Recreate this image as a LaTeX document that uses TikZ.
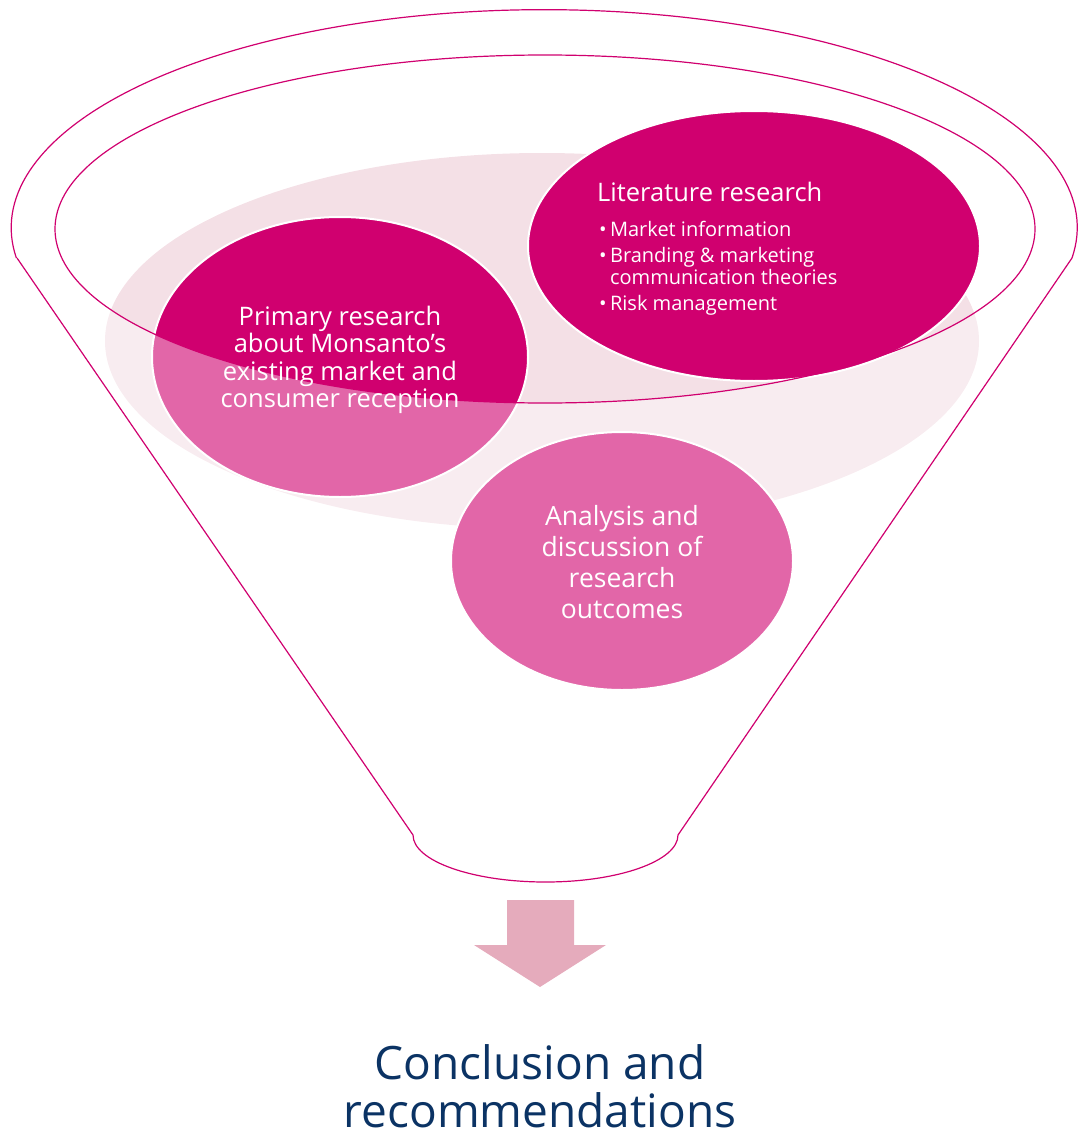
\documentclass[tikz,border=0pt]{standalone}
\usepackage{fontspec}
\setmainfont{Open Sans}
\usetikzlibrary{shapes.geometric}
\definecolor{funnelpink}{HTML}{D0006F}
\definecolor{palepink}{HTML}{F4E0E6}
\definecolor{arrowpink}{HTML}{E5ABBC}
\definecolor{navyblue}{HTML}{0B3364}
\tikzstyle{blob}=[ellipse, fill=funnelpink, draw=white, line width=2pt, inner sep=0pt]
\tikzstyle{blobtext}=[text=white, align=center, inner sep=0pt]
\tikzstyle{rim}=[draw=funnelpink, line width=1.2pt]
\tikzstyle{result}=[text=navyblue, anchor=base, inner sep=0pt, text depth=0pt, font=\fontsize{46}{50}\selectfont]

\begin{document}
\begin{tikzpicture}[x=1pt, y=-1pt]
\useasboundingbox (0,0) rectangle (1077,1137);
% Pale back ellipse
    \node[ellipse, fill=palepink, minimum width=874pt, minimum height=376pt] (back) at (542,341) {};
% Circles below the funnel body
    \node[blob, minimum width=376pt, minimum height=280pt] (primary) at (340,357) {};
    \node[blob, minimum width=342pt, minimum height=258pt] (analysis) at (622,561) {};
% Funnel body, see-through
    \fill[white, opacity=0.4, even odd rule]
        (17,258) -- (413,835) arc[start angle=180, end angle=0, x radius=132.5, y radius=47]
        -- (1072,258) arc[start angle=8, end angle=-188, x radius=533, y radius=218] -- cycle
        (545,229) ellipse[x radius=490, y radius=174];
% Circle on top
    \node[blob, minimum width=452pt, minimum height=270pt] (literature) at (754,246) {};
% Funnel outline
    \draw[rim] (1072,258) arc[start angle=8, end angle=-188, x radius=533, y radius=218];
    \draw[rim] (545,229) ellipse[x radius=490, y radius=174];
    \draw[rim] (17,258) -- (413,835) arc[start angle=180, end angle=0, x radius=132.5, y radius=47] -- (1072,258);
% Texts
    \node[blobtext, font=\fontsize{25.5}{27.5}\selectfont] (primarytext) at (340,360)
        {Primary research\\about Monsanto's\\existing market and\\consumer reception};
    \node[blobtext, font=\fontsize{26.5}{31}\selectfont] (analysistext) at (622,562)
        {Analysis and\\discussion of\\research\\outcomes};
    \node[blobtext, anchor=west, font=\fontsize{25.5}{30}\selectfont] (littitle) at (597,192) {Literature research};
    \node[blobtext, align=left, anchor=north west, font=\fontsize{20}{22}\selectfont] (litlist) at (599,221)
        {\textbullet\,Market information\\[4pt]
         \textbullet\,Branding \& marketing\\
         \phantom{\textbullet\,}communication theories\\[4pt]
         \textbullet\,Risk management};
% Arrow and result
    \fill[arrowpink] (507,900) -- (574,900) -- (574,945) -- (606,945) -- (540,987)
        -- (474,945) -- (507,945) -- cycle;
    \node[result] (conclusion) at (540,1079) {Conclusion and};
    \node[result] (recommend) at (540,1127) {recommendations};
\end{tikzpicture}
\end{document}
